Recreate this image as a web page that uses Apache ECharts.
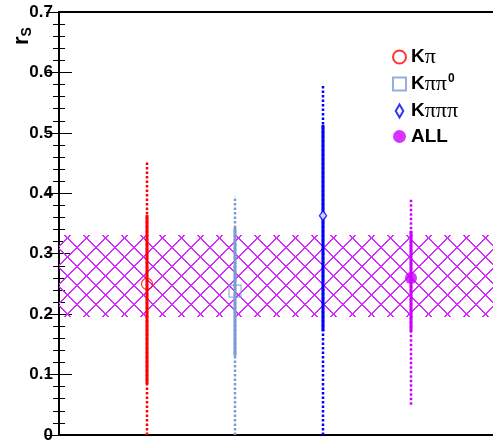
<!DOCTYPE html>
<html>
<head>
<meta charset="utf-8">
<script src="https://cdn.jsdelivr.net/npm/echarts@6/dist/echarts.min.js"></script>
<style>html,body{margin:0;padding:0;background:#fff;}#c{width:493px;height:447px;}</style>
</head>
<body>
<div id="c"></div>
<script>
// ---- data ----
const categories = ['Kπ', 'Kππ0', 'Kπππ', 'ALL'];
const xPos = [1, 2, 3, 4];
const rS = [0.250, 0.238, 0.363, 0.260];
const statLow = [0.084, 0.131, 0.172, 0.171];
const statHigh = [0.364, 0.343, 0.513, 0.338];
const totLow = [0.000, 0.000, 0.000, 0.050];
const totHigh = [0.453, 0.395, 0.581, 0.391];
const bandRange = [0.196, 0.331];
const yRange = [0, 0.7];
const xRange = [0, 5];

// ---- styles ----
const colors = ['#ff0000', '#7b9bd6', '#0000ff', '#cc00ff'];
const hatchColor = '#d42bff';
const hatchStep = 19;

// crisp (aliased) cross-hatch tile, like ROOT's fill style
function makeHatchTile() {
  const s = hatchStep;
  const cv = document.createElement('canvas');
  cv.width = s; cv.height = s;
  const ctx = cv.getContext('2d');
  ctx.fillStyle = hatchColor;
  for (let i = 0; i < s; i++) {
    ctx.fillRect(i, i, 1, 1);
    ctx.fillRect((i + 1) % s, i, 1, 1);
    ctx.fillRect(i, (s - i) % s, 1, 1);
    ctx.fillRect((i + 1) % s, (s - i) % s, 1, 1);
  }
  return cv;
}
const hatchTile = makeHatchTile();

const chart = echarts.init(document.getElementById('c'), null, {renderer: 'canvas'});

const errData = xPos.map((x, i) => [x, rS[i], statLow[i], statHigh[i], totLow[i], totHigh[i]]);

const symbolDefs = [
  {symbol: 'circle', symbolSize: 11, itemStyle: {color: 'transparent', borderColor: colors[0], borderWidth: 1.2}},
  {symbol: 'rect', symbolSize: 12, itemStyle: {color: 'transparent', borderColor: colors[1], borderWidth: 1.2}},
  {symbol: 'diamond', symbolSize: [7, 10], itemStyle: {color: '#ffffff', borderColor: colors[2], borderWidth: 1.5}},
  {symbol: 'circle', symbolSize: 12, itemStyle: {color: colors[3], borderColor: colors[3], borderWidth: 0}}
];
const legendIcons = [null, null, 'path://M4,0L7.5,6L4,12L0.5,6Z', null];

const legendLabels = {
  'Kπ': '{k|K}{p|π}',
  'Kππ0': '{k|K}{p|ππ}{s|0}',
  'Kπππ': '{k|K}{p|πππ}',
  'ALL': '{k|ALL}'
};

const axisCommon = {
  type: 'value',
  min: yRange[0], max: yRange[1], interval: 0.1,
  axisLine: {show: true, lineStyle: {color: '#000', width: 2}},
  axisTick: {show: true, inside: true, length: 13, lineStyle: {color: '#000', width: 1}},
  minorTick: {show: true, splitNumber: 5, length: 6, lineStyle: {color: '#000', width: 1}},
  splitLine: {show: false}
};

const option = {
  animation: false,
  backgroundColor: '#fff',
  grid: {left: 59, right: -6, top: 12, bottom: 12, containLabel: false, outerBoundsMode: 'none'},
  xAxis: [
    {type: 'value', min: xRange[0], max: xRange[1], position: 'bottom',
     axisLine: {show: true, onZero: false, lineStyle: {color: '#000', width: 2}},
     axisTick: {show: false}, axisLabel: {show: false}, splitLine: {show: false}},
    {type: 'value', min: xRange[0], max: xRange[1], position: 'top',
     axisLine: {show: true, onZero: false, lineStyle: {color: '#000', width: 2}},
     axisTick: {show: false}, axisLabel: {show: false}, splitLine: {show: false}}
  ],
  yAxis: [
    Object.assign({}, axisCommon, {position: 'left',
      axisLabel: {show: true, margin: 6, fontFamily: 'Liberation Sans, Arial, sans-serif', fontWeight: 'bold', fontSize: 17, color: '#000',
        formatter: v => (Math.abs(v) < 1e-9 ? '0' : v.toFixed(1))}}),
    Object.assign({}, axisCommon, {position: 'right', axisLabel: {show: false}})
  ],
  legend: {
    orient: 'vertical', left: 387, top: 41,
    itemWidth: 13, itemHeight: 13, itemGap: 5,
    data: categories.map((name, i) => legendIcons[i] ? {name: name, icon: legendIcons[i]} : {name: name}),
    formatter: name => legendLabels[name],
    textStyle: {
      color: '#000',
      rich: {
        k: {fontFamily: 'Liberation Sans, Arial, sans-serif', fontWeight: 'bold', fontSize: 19, color: '#000'},
        p: {fontFamily: 'Liberation Serif, serif', fontSize: 22, color: '#000'},
        s: {fontFamily: 'Liberation Sans, Arial, sans-serif', fontWeight: 'bold', fontSize: 12, color: '#000', verticalAlign: 'top', padding: [0, 0, 8, 1]}
      }
    }
  },
  graphic: [
    {type: 'text', x: 22, y: 36, rotation: Math.PI / 2,
     style: {text: '{r|r}{s|S}', align: 'center', verticalAlign: 'middle',
       rich: {
         r: {fontFamily: 'Liberation Sans, Arial, sans-serif', fontWeight: 'bold', fontSize: 22, fill: '#000'},
         s: {fontFamily: 'Liberation Sans, Arial, sans-serif', fontWeight: 'bold', fontSize: 14, fill: '#000', padding: [10, 0, 0, 0]}
       }}}
  ],
  series: [
    {
      type: 'custom', name: 'band', silent: true, clip: true, z: 1,
      data: [[xRange[0], bandRange[0], xRange[1], bandRange[1]]],
      renderItem: function (params, api) {
        const p0 = api.coord([api.value(0), api.value(1)]);
        const p1 = api.coord([api.value(2), api.value(3)]);
        const x = Math.round(p0[0]), y = Math.round(p1[1]);
        return {type: 'rect',
          shape: {x: x, y: y, width: Math.round(p1[0]) - x, height: Math.round(p0[1]) - y},
          style: {fill: {image: hatchTile, repeat: 'repeat'}, stroke: null}};
      }
    },
    {
      type: 'custom', name: 'errors', silent: true, clip: true, z: 2,
      data: errData,
      renderItem: function (params, api) {
        const i = params.dataIndex;
        const x = api.value(0);
        const c = colors[i];
        const tl = api.coord([x, api.value(4)]);
        const th = api.coord([x, api.value(5)]);
        const sl = api.coord([x, api.value(2)]);
        const sh = api.coord([x, api.value(3)]);
        return {type: 'group', children: [
          {type: 'line', shape: {x1: tl[0], y1: tl[1], x2: th[0], y2: th[1]},
           style: {stroke: c, lineWidth: 2.5, lineDash: [2.5, 2]}},
          {type: 'line', shape: {x1: sl[0], y1: sl[1], x2: sh[0], y2: sh[1]},
           style: {stroke: c, lineWidth: 3}}
        ]};
      }
    }
  ].concat(categories.map((name, i) => Object.assign({
    type: 'scatter', name: name, z: 5,
    data: [[xPos[i], rS[i]]]
  }, symbolDefs[i])))
};

chart.setOption(option);
</script>
</body>
</html>
